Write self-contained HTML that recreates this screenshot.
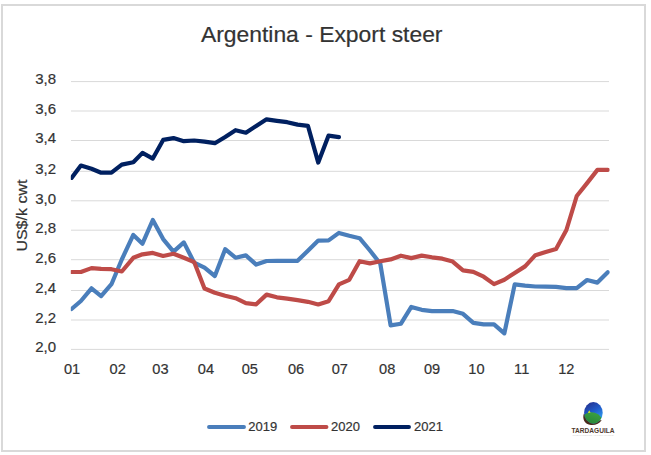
<!DOCTYPE html>
<html><head><meta charset="utf-8"><style>
html,body{margin:0;padding:0;background:#fff;}
svg{display:block;}
text{font-family:"Liberation Sans",Arial,sans-serif;}
</style></head><body>
<svg width="651" height="455" viewBox="0 0 651 455">
<rect x="0" y="0" width="651" height="455" fill="#fff"/>
<rect x="2" y="5" width="643" height="446" fill="#fff" stroke="#d9d9d9" stroke-width="2"/>
<text x="321.7" y="41.9" font-size="21.6" fill="#333" stroke="#333" stroke-width="0.2" text-anchor="middle" textLength="241.6" lengthAdjust="spacingAndGlyphs">Argentina - Export steer</text>
<g stroke="#d9d9d9" stroke-width="1"><line x1="71" x2="609" y1="81.60" y2="81.60"/><line x1="71" x2="609" y1="111.00" y2="111.00"/><line x1="71" x2="609" y1="140.50" y2="140.50"/><line x1="71" x2="609" y1="171.30" y2="171.30"/><line x1="71" x2="609" y1="200.80" y2="200.80"/><line x1="71" x2="609" y1="230.20" y2="230.20"/><line x1="71" x2="609" y1="259.70" y2="259.70"/><line x1="71" x2="609" y1="290.50" y2="290.50"/><line x1="71" x2="609" y1="320.00" y2="320.00"/><line x1="71" x2="609" y1="349.40" y2="349.40"/></g>
<g font-size="15" fill="#333" stroke="#333" stroke-width="0.2" text-anchor="end"><text x="56" y="84.40">3,8</text><text x="56" y="113.80">3,6</text><text x="56" y="143.30">3,4</text><text x="56" y="174.10">3,2</text><text x="56" y="203.60">3,0</text><text x="56" y="233.00">2,8</text><text x="56" y="262.50">2,6</text><text x="56" y="293.30">2,4</text><text x="56" y="322.80">2,2</text><text x="56" y="352.20">2,0</text></g>
<g font-size="14.6" fill="#333" stroke="#333" stroke-width="0.2" text-anchor="middle"><text x="72.07" y="374.3">01</text><text x="117.66" y="374.3">02</text><text x="160.40" y="374.3">03</text><text x="205.89" y="374.3">04</text><text x="249.80" y="374.3">05</text><text x="296.09" y="374.3">06</text><text x="339.80" y="374.3">07</text><text x="387.19" y="374.3">08</text><text x="432.08" y="374.3">09</text><text x="476.40" y="374.3">10</text><text x="521.69" y="374.3">11</text><text x="566.30" y="374.3">12</text></g>
<text transform="translate(26.8,215.6) rotate(-90)" font-size="14.6" fill="#333" stroke="#333" stroke-width="0.2" text-anchor="middle" textLength="72" lengthAdjust="spacingAndGlyphs">US$/k cwt</text>
<clipPath id="pa"><rect x="70.8" y="60" width="538.9" height="300"/></clipPath>
<g fill="none" stroke-width="4.2" stroke-linejoin="round" stroke-linecap="round" clip-path="url(#pa)">
<polyline stroke="#4A7EBB" points="71.57,309.00 80.90,301.00 91.50,288.30 101.11,296.10 111.45,284.20 121.79,259.50 133.30,234.90 142.47,243.70 152.81,220.00 163.15,239.10 173.49,251.60 183.83,242.40 194.17,262.60 204.51,267.60 214.85,276.00 225.19,249.20 235.53,257.70 245.87,255.40 256.21,264.60 266.55,261.00 276.89,260.80 287.23,260.80 297.57,260.80 307.91,250.70 318.25,240.60 328.59,240.40 338.93,232.90 349.26,235.80 359.60,238.20 369.94,250.50 380.28,263.70 390.62,325.40 400.96,323.70 411.30,306.90 421.64,309.80 431.98,311.20 442.32,311.20 452.66,311.00 463.00,313.80 473.34,322.90 483.68,324.30 494.02,324.30 504.36,333.30 514.70,284.40 525.04,285.60 535.38,286.50 545.72,286.70 556.06,286.90 566.40,288.10 576.74,288.10 587.08,280.00 597.42,282.60 607.76,272.20"/>
<polyline stroke="#BE4B48" points="71.57,272.00 80.90,272.00 91.50,268.10 101.11,268.90 111.45,269.20 121.79,271.50 133.30,257.80 142.47,254.30 152.81,252.90 163.15,256.00 173.49,253.80 183.83,257.70 194.17,262.10 204.51,288.50 214.85,292.80 225.19,295.70 235.53,298.20 245.87,303.10 256.21,304.30 266.55,294.60 276.89,297.30 287.23,298.70 297.57,300.20 307.91,301.80 318.25,304.50 328.59,301.20 338.93,284.40 349.26,279.80 359.60,261.20 369.94,263.40 380.28,261.30 390.62,259.40 400.96,255.70 411.30,258.10 421.64,255.60 431.98,257.30 442.32,258.70 452.66,261.60 463.00,270.30 473.34,271.80 483.68,276.70 494.02,284.10 504.36,279.70 514.70,272.90 525.04,266.40 535.38,255.20 545.72,252.00 556.06,249.10 566.40,230.00 576.74,196.00 587.08,183.10 597.42,169.90 607.76,169.90"/>
<polyline stroke="#002060" points="71.57,177.90 80.90,165.50 91.50,168.80 101.11,172.70 111.45,172.70 121.79,164.60 133.30,162.20 142.47,152.90 152.81,158.60 163.15,139.90 173.49,138.10 183.83,141.20 194.17,140.50 204.51,141.70 214.85,143.20 225.19,137.00 235.53,130.20 245.87,132.70 256.21,125.90 266.55,119.30 276.89,120.80 287.23,122.20 297.57,124.60 307.91,125.80 318.25,162.60 328.59,135.60 338.93,137.10"/>
</g>
<g stroke-width="3.9" stroke-linecap="round">
<line x1="209" x2="244" y1="427" y2="427" stroke="#4A7EBB"/>
<line x1="292" x2="326.5" y1="427" y2="427" stroke="#BE4B48"/>
<line x1="375" x2="409" y1="427" y2="427" stroke="#002060"/>
</g>
<g font-size="13.4" fill="#333" stroke="#333" stroke-width="0.2">
<text x="248.3" y="430.6" textLength="28.9" lengthAdjust="spacingAndGlyphs">2019</text>
<text x="331.1" y="430.6" textLength="28.9" lengthAdjust="spacingAndGlyphs">2020</text>
<text x="414.1" y="430.6" textLength="28.9" lengthAdjust="spacingAndGlyphs">2021</text>
</g>
<g id="logo">
<defs>
<linearGradient id="sky" x1="0.3" y1="0" x2="0.75" y2="0.85">
<stop offset="0" stop-color="#24308e"/><stop offset="0.5" stop-color="#1f5ccc"/><stop offset="1" stop-color="#33a6f2"/>
</linearGradient>
<linearGradient id="grass" x1="0" y1="0" x2="0" y2="1">
<stop offset="0" stop-color="#3a9f40"/><stop offset="1" stop-color="#1d7a33"/>
</linearGradient>
<clipPath id="lc"><ellipse cx="593.4" cy="412.8" rx="9.3" ry="10.7"/></clipPath>
</defs>
<path d="M583.9,413.4 C582.0,418.5 584.5,424.3 591,425.0 C595.5,425.4 599.6,423.6 601.7,419.9 C598,421 590,420 583.9,413.4 Z" fill="#4a2a1c"/>
<g clip-path="url(#lc)">
<rect x="583" y="401" width="21" height="24" fill="url(#sky)"/>
<ellipse cx="592.3" cy="421.6" rx="10.6" ry="9.2" fill="url(#grass)" transform="rotate(16 592.3 421.6)"/>
</g>
<path d="M587.9,413.0 L589.2,410.3 L590.6,412.8 Z" fill="#dce81e"/>
<text x="593" y="432.8" font-size="6.6" font-weight="bold" fill="#4e382c" text-anchor="middle" textLength="43" lengthAdjust="spacingAndGlyphs">TARDAGUILA</text>
<text x="593" y="435.8" font-size="2.4" fill="#d4d4d4" text-anchor="middle" textLength="41" lengthAdjust="spacingAndGlyphs">INTELLIGENCE AGROMARKETS</text>
</g>
</svg>
</body></html>
